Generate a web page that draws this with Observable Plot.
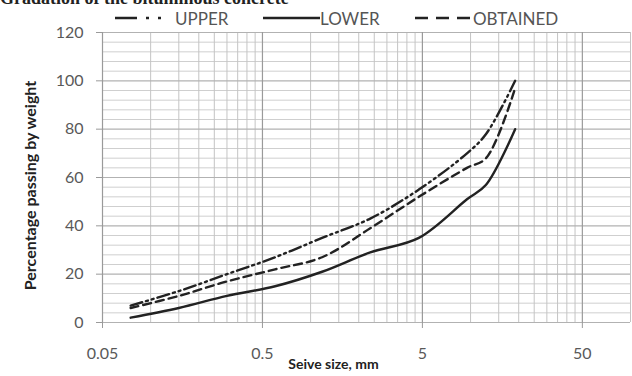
<!DOCTYPE html>
<html><head><meta charset="utf-8">
<script src="https://cdn.jsdelivr.net/npm/d3@7"></script>
<script src="https://cdn.jsdelivr.net/npm/@observablehq/plot@0.6"></script>
<style>
body{margin:0;background:#fff;overflow:hidden}
#wrap{position:relative;width:632px;height:376px;overflow:hidden;background:#fff}
.title{position:absolute;left:0;top:-12px;font:bold 18px "Liberation Serif";color:#222;white-space:nowrap}
.legend{position:absolute;top:8px;left:0;width:632px;height:20px;font:17px Lato;color:#555}
.legend .it{position:absolute;top:0;display:flex;align-items:center;height:20px}
.legend svg{display:block}
</style></head>
<body>
<div id="wrap">
  <div class="title">Gradation of the bituminous concrete</div>
  <div id="chart"></div>
  <div class="legend" id="legend"></div>
</div>
<script>
// Data
const sieve = [0.075, 0.15, 0.3, 0.6, 1.18, 2.36, 4.75, 9.5, 12.5, 19];
const upper = [7, 13, 20, 27, 35, 43, 55, 70, 78, 100];
const lower = [2, 6, 11, 15, 21, 29, 35, 51, 57, 80];
const obtained = [6, 11, 17, 22, 27, 39, 52, 64, 68, 97];
const seriesNames = ["UPPER", "LOWER", "OBTAINED"];

const xTicks = [0.05, 0.5, 5, 50];
const xMinor = [0.1, 0.15, 0.2, 0.25, 0.3, 0.35, 0.4, 0.45,
                1, 1.5, 2, 2.5, 3, 3.5, 4, 4.5,
                10, 15, 20, 25, 30, 35, 40, 45, 100];
const yTicks = [0, 20, 40, 60, 80, 100, 120];
const yMinor = [4, 8, 12, 16, 24, 28, 32, 36, 44, 48, 52, 56, 64, 68, 72, 76, 84, 88, 92, 96, 104, 108, 112, 116];
const xLabel = "Seive size, mm";
const yLabel = "Percentage passing by weight";

const styles = {
  UPPER: {dash: "12,4,2,4,2,4", legendDash: "22,9,3,9,3,9"},
  LOWER: {dash: null, legendDash: null},
  OBTAINED: {dash: "8,5", legendDash: "13,8"}
};
const valuesBy = {UPPER: upper, LOWER: lower, OBTAINED: obtained};
const rows = seriesNames.flatMap(s => sieve.map((d, i) => ({series: s, size: d, pct: valuesBy[s][i]})));

const lineMarks = seriesNames.map(s => Plot.line(rows.filter(r => r.series === s), {
  x: "size", y: "pct", curve: "catmull-rom",
  stroke: "#222", strokeWidth: 2.4, strokeDasharray: styles[s].dash
}));

const chart = Plot.plot({
  width: 632, height: 376,
  marginTop: 32, marginBottom: 54, marginLeft: 102, marginRight: 2,
  style: {fontFamily: "Lato", fontSize: "16px", background: "#fff"},
  x: {type: "log", domain: [0.05, 100]},
  y: {domain: [0, 120]},
  marks: [
    Plot.ruleY(yMinor, {stroke: "#cfcfcf", strokeWidth: 1}),
    Plot.ruleX(xMinor, {stroke: "#c4c4c4", strokeWidth: 1}),
    Plot.ruleY(yTicks, {stroke: "#b2b2b2", strokeWidth: 1.2}),
    Plot.ruleX(xTicks, {stroke: "#9a9a9a", strokeWidth: 1.2}),
    Plot.axisX({ticks: xTicks, tickSize: 6, tickFormat: () => "", stroke: "#9a9a9a", label: null}),
    Plot.text(xTicks, {x: d => d, frameAnchor: "bottom", dy: 36, text: d => String(d), fill: "#595959", fontSize: 16}),
    Plot.text([xLabel], {frameAnchor: "bottom", dy: 46, dx: -33, text: d => d, fill: "#222", fontSize: 14, fontWeight: "bold"}),
    Plot.axisY({ticks: yTicks, tickSize: 6, tickFormat: () => "", stroke: "#9a9a9a", label: null}),
    Plot.axisY({ticks: yTicks, tickSize: 0, tickPadding: 19, color: "#595959", fontSize: 16, label: null}),
    Plot.text([yLabel], {frameAnchor: "left", textAnchor: "middle", dx: -72, dy: 8, rotate: -90, text: d => d, fill: "#222", fontSize: 16, fontWeight: "bold"}),
    ...lineMarks
  ]
});
document.getElementById("chart").appendChild(chart);

// Legend
const legendPos = {UPPER: [115, 47, 13], LOWER: [263, 57, 0], OBTAINED: [415, 58, 0]};
const legend = document.getElementById("legend");
for (const s of seriesNames) {
  const [left, w, gap] = legendPos[s];
  const it = document.createElement("div");
  it.className = "it";
  it.style.left = left + "px";
  const dash = styles[s].legendDash ? `stroke-dasharray="${styles[s].legendDash}"` : "";
  it.innerHTML = `<svg width="${w}" height="10"><line x1="0" y1="5" x2="${w}" y2="5" stroke="#222" stroke-width="2.6" ${dash}/></svg><span style="margin-left:${gap}px">${s}</span>`;
  legend.appendChild(it);
}
</script>
</body></html>
